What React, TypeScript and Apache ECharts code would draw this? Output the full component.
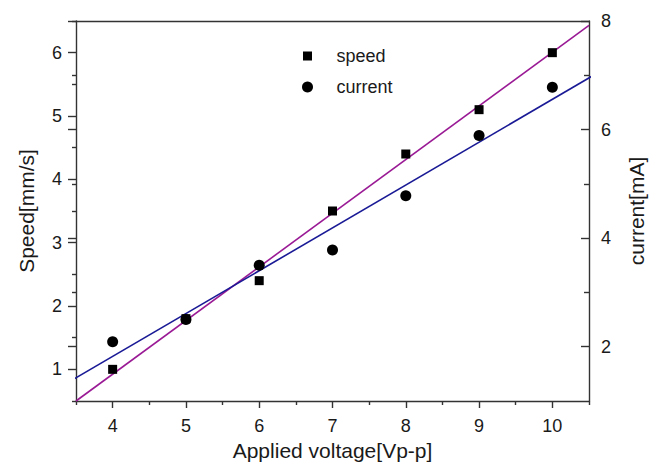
import React, { useEffect, useRef } from "react";
import * as echarts from "echarts";

const voltage = [4, 5, 6, 7, 8, 9, 10];
const speed = [1.0, 1.8, 2.4, 3.5, 4.4, 5.1, 6.0];
const current = [2.09, 2.5, 3.5, 3.78, 4.78, 5.89, 6.78];

const speedFitX = [3.5, 10.5];
const speedFitY = [0.5, 6.43];
const currentFitX = [3.39, 10.6];
const currentFitY = [1.34, 7.03];

const xMajorTicks = [4, 5, 6, 7, 8, 9, 10];
const xMinorTicks = [3.5, 4.5, 5.5, 6.5, 7.5, 8.5, 9.5, 10.5];
const speedMajorTicks = [1, 2, 3, 4, 5, 6];
const speedMinorTicks = [0.5, 1.5, 2.5, 3.5, 4.5, 5.5, 6.5];
const currentMajorTicks = [2, 4, 6, 8];
const currentMinorTicks = [3, 5, 7];

const FONT = "'Liberation Sans', Arial, sans-serif";
const AXIS_COLOR = "#333333";
const TEXT_COLOR = "#1a1a1a";
const PURPLE = "#9a1a95";
const NAVY = "#1a1a96";

export default function App() {
  const ref = useRef<HTMLDivElement>(null);

  useEffect(() => {
    if (!ref.current) return;
    const chart = echarts.init(ref.current, undefined, { renderer: "svg" });

    const lineStyle = { color: AXIS_COLOR, width: 1.4 };
    const labelStyle = { color: TEXT_COLOR, fontSize: 18, fontFamily: FONT };
    const nameStyle = { color: TEXT_COLOR, fontSize: 21, fontFamily: FONT };

    const overlayY = (
      idx: string,
      min: number,
      max: number,
      position: string,
      ticks: number[],
      len: number,
      inside: boolean
    ) => ({
      id: idx,
      type: "value",
      position,
      min,
      max,
      gridIndex: 0,
      axisLine: { show: false, onZero: false },
      splitLine: { show: false },
      axisLabel: { show: false },
      axisTick: { show: true, customValues: ticks, length: len, inside, lineStyle },
    });

    const option: any = {
      animation: false,
      backgroundColor: "#ffffff",
      textStyle: { fontFamily: FONT },
      grid: { left: 76, right: 69, top: 21, bottom: 62, containLabel: false },
      legend: {
        orient: "vertical",
        left: 297,
        top: 42,
        itemWidth: 48,
        itemHeight: 11,
        itemGap: 13,
        symbolKeepAspect: true,
        selectedMode: false,
        textStyle: { color: TEXT_COLOR, fontSize: 18, fontFamily: FONT },
        data: [
          {
            name: "speed",
            icon: "path://M1,1h9v9h-9zM0,0h0.001v0.001zM11,11h-0.001v-0.001z",
          },
          { name: "current", icon: "circle" },
        ],
      },
      xAxis: [
        {
          type: "value",
          position: "bottom",
          min: 3.5,
          max: 10.5,
          name: "Applied voltage[Vp-p]",
          nameLocation: "middle",
          nameGap: 39,
          nameTextStyle: nameStyle,
          axisLine: { show: true, onZero: false, lineStyle },
          splitLine: { show: false },
          axisTick: { show: true, customValues: xMajorTicks, length: 7, lineStyle },
          axisLabel: { ...labelStyle, customValues: xMajorTicks, margin: 16 },
        },
        {
          type: "value",
          position: "bottom",
          min: 3.5,
          max: 10.5,
          axisLine: { show: false, onZero: false },
          splitLine: { show: false },
          axisLabel: { show: false },
          axisTick: { show: true, customValues: xMinorTicks, length: 4, lineStyle },
        },
        {
          type: "value",
          position: "top",
          min: 3.5,
          max: 10.5,
          axisLine: { show: true, onZero: false, lineStyle },
          splitLine: { show: false },
          axisLabel: { show: false },
          axisTick: { show: false },
        },
      ],
      yAxis: [
        {
          type: "value",
          position: "left",
          min: 0.5,
          max: 6.5,
          name: "Speed[mm/s]",
          nameLocation: "middle",
          nameRotate: 90,
          nameGap: 39,
          nameTextStyle: nameStyle,
          axisLine: { show: true, onZero: false, lineStyle },
          splitLine: { show: false },
          axisTick: { show: true, customValues: speedMajorTicks, length: 8, lineStyle },
          axisLabel: { ...labelStyle, customValues: speedMajorTicks, margin: 14 },
        },
        overlayY("speedMinor", 0.5, 6.5, "left", speedMinorTicks, 4, false),
        {
          type: "value",
          position: "right",
          min: 1,
          max: 8,
          name: "current[mA]",
          nameLocation: "middle",
          nameRotate: 90,
          nameGap: 37,
          nameTextStyle: nameStyle,
          axisLine: { show: true, onZero: false, lineStyle },
          splitLine: { show: false },
          axisTick: { show: true, customValues: currentMajorTicks, length: 8, inside: true, lineStyle },
          axisLabel: { ...labelStyle, customValues: currentMajorTicks, margin: 12 },
        },
        overlayY("currentMinorRight", 1, 8, "right", currentMinorTicks, 5, true),
        overlayY("currentMajorLeft", 1, 8, "left", currentMajorTicks, 8, false),
        overlayY("currentMinorLeft", 1, 8, "left", currentMinorTicks, 4, false),
      ],
      series: [
        {
          name: "speed fit",
          type: "line",
          xAxisIndex: 0,
          yAxisIndex: 0,
          data: speedFitX.map((x, i) => [x, speedFitY[i]]),
          showSymbol: false,
          symbol: "none",
          clip: false,
          lineStyle: { color: PURPLE, width: 1.6 },
          itemStyle: { color: PURPLE },
          z: 2,
        },
        {
          name: "current fit",
          type: "line",
          xAxisIndex: 0,
          yAxisIndex: 2,
          data: currentFitX.map((x, i) => [x, currentFitY[i]]),
          showSymbol: false,
          symbol: "none",
          clip: false,
          lineStyle: { color: NAVY, width: 1.6 },
          itemStyle: { color: NAVY },
          z: 2,
        },
        {
          name: "speed",
          type: "scatter",
          xAxisIndex: 0,
          yAxisIndex: 0,
          symbol: "rect",
          symbolSize: 9,
          data: voltage.map((v, i) => [v, speed[i]]),
          itemStyle: { color: "#000000", opacity: 1 },
          z: 5,
        },
        {
          name: "current",
          type: "scatter",
          xAxisIndex: 0,
          yAxisIndex: 2,
          symbol: "circle",
          symbolSize: 11,
          data: voltage.map((v, i) => [v, current[i]]),
          itemStyle: { color: "#000000", opacity: 1 },
          z: 5,
        },
      ],
    };

    chart.setOption(option);
    return () => chart.dispose();
  }, []);

  return (
    <div
      ref={ref}
      style={{ position: "fixed", left: 0, top: 0, width: 658, height: 466, background: "#fff" }}
    />
  );
}
